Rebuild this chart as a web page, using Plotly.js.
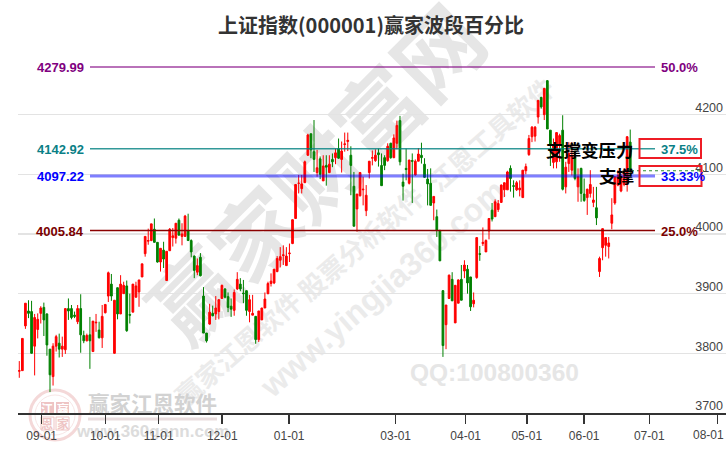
<!DOCTYPE html>
<html>
<head>
<meta charset="utf-8">
<script src="https://cdn.plot.ly/plotly-3.0.1.min.js"></script>
<style>
html,body{margin:0;padding:0;background:#fff;}
#wm,#chart{position:absolute;left:0;top:0;width:726px;height:450px;}
</style>
</head>
<body>
<div id="wm"></div>
<div id="chart"></div>
<script>
const opens = [
3770,3771,3846,3871,3870,3812,3840,3867,3877,3866,
3807,3761,3812,3817,3807,3806,3875,3875,3864,3853,
3875,3830,3821,3831,3803,3851,3839,3826,3868,3896,
3916,3800,3910,3866,3900,3913,3865,3869,3894,3903,
3928,3967,3988,3989,4008,3986,3953,3973,3922,3972,
3994,3993,4023,3996,3996,4006,3989,3963,3936,3961,
3896,3834,3849,3867,3866,3870,3892,3908,3895,3879,
3872,3908,3916,3901,3905,3870,3864,3862,3823,3856,
3876,3900,3917,3918,3937,3956,3964,3947,3967,3984,
4026,4085,4076,4086,4132,4168,4138,4103,4126,4089,
4115,4103,4125,4128,4143,4125,4150,4155,4132,4080,
4042,4064,4074,4039,4103,4127,4123,4136,4115,4128,
4123,4152,4128,4152,4190,4087,4110,4085,4123,4099,
4122,4132,4117,4092,4085,4052,4029,4006,3905,3848,
3892,3924,3851,3884,3924,3938,3941,3928,3883,3927,
3967,3984,3970,4005,4040,4029,4041,4053,4074,4074,
4110,4081,4074,4074,4061,4106,4133,4163,4164,4196,
4229,4200,4257,4174,4120,4121,4151,4174,4079,4118,
4107,4129,4079,4110,4067,4061,4068,4053,4044,3937,
3977,3981,3979,4018,4052,4082,4072,4083,4085,4154];
const closes = [
3771,3825,3884,3867,3800,3860,3857,3876,3856,3814,
3764,3812,3828,3807,3812,3875,3871,3860,3862,3875,
3831,3821,3830,3821,3854,3852,3826,3862,3882,3935,
3896,3889,3866,3916,3914,3838,3864,3916,3913,3923,
3950,3996,3989,4017,3986,3953,3976,3958,3971,4008,
3997,4018,3998,4000,4030,3989,3970,3939,3947,3930,
3834,3821,3869,3863,3876,3890,3914,3894,3877,3874,
3902,3924,3908,3900,3872,3890,3867,3823,3871,3876,
3891,3917,3921,3941,3959,3962,3965,3963,3968,4024,
4083,4085,4084,4121,4166,4141,4125,4111,4100,4114,
4112,4117,4121,4136,4127,4139,4151,4157,4115,4013,
4067,4103,4075,4065,4122,4128,4132,4133,4081,4115,
4147,4128,4161,4182,4121,4080,4108,4124,4122,4122,
4134,4128,4095,4084,4048,4063,4006,3955,3813,3881,
3931,3888,3914,3923,3889,3948,3918,3878,3889,3994,
3966,3986,3989,4026,4025,4054,4051,4082,4086,4104,
4093,4080,4086,4077,4107,4113,4160,4179,4179,4224,
4213,4244,4176,4149,4149,4170,4165,4075,4112,4135,
4132,4093,4096,4068,4056,4075,4083,4057,4027,3959,
4009,3994,3985,4032,4096,4098,4096,4104,4163,4107];
const highs = [
3787,3825,3884,3889,3888,3866,3867,3879,3885,3867,
3807,3817,3831,3833,3828,3875,3892,3881,3870,3881,
3899,3838,3833,3861,3854,3866,3853,3881,3882,3937,
3933,3889,3910,3931,3920,3922,3900,3916,3920,3923,
3950,3996,4009,4017,4026,3986,3976,3987,3971,4010,
4010,4018,4026,4018,4032,4034,3991,3964,3959,3968,
3911,3834,3883,3880,3896,3890,3915,3909,3902,3892,
3907,3936,3926,3923,3905,3898,3898,3862,3871,3876,
3902,3920,3934,3941,3963,3978,3981,3978,3984,4024,
4083,4099,4099,4123,4168,4168,4191,4141,4130,4132,
4132,4132,4135,4143,4160,4155,4170,4170,4147,4104,
4067,4104,4096,4082,4122,4140,4142,4143,4135,4132,
4152,4153,4167,4190,4198,4101,4143,4124,4135,4125,
4144,4153,4127,4109,4110,4063,4041,4007,3906,3881,
3932,3936,3914,3924,3948,3956,3948,3928,3902,3994,
3980,4011,3991,4026,4052,4058,4057,4083,4086,4106,
4115,4090,4089,4090,4107,4118,4166,4181,4181,4224,
4230,4245,4258,4174,4160,4170,4168,4199,4121,4154,
4154,4140,4110,4111,4093,4076,4107,4079,4079,3962,
4009,3994,3995,4060,4096,4107,4101,4110,4164,4175];
const lows = [
3759,3771,3841,3859,3800,3763,3825,3850,3829,3796,
3735,3746,3803,3793,3794,3799,3856,3857,3859,3849,
3801,3817,3820,3774,3803,3836,3825,3809,3867,3886,
3888,3800,3857,3866,3900,3836,3850,3869,3894,3878,
3928,3962,3982,3988,3986,3952,3937,3943,3922,3972,
3979,3984,3998,3981,3996,3989,3961,3926,3931,3929,
3834,3818,3848,3862,3856,3857,3892,3892,3869,3861,
3863,3906,3904,3884,3863,3852,3864,3816,3819,3856,
3876,3899,3912,3916,3936,3944,3948,3947,3953,3983,
4026,4068,4068,4086,4131,4127,4104,4096,4092,4089,
4081,4102,4112,4117,4126,4103,4138,4139,4065,4013,
4004,4063,4048,4030,4093,4115,4121,4113,4081,4107,
4121,4126,4127,4142,4115,4056,4090,4083,4052,4098,
4122,4118,4094,4048,4048,4023,3995,3955,3794,3807,
3891,3888,3851,3884,3889,3926,3900,3871,3877,3925,
3955,3980,3970,3991,4021,4029,4037,4052,4062,4074,
4071,4061,4072,4063,4061,4100,4131,4154,4155,4185,
4210,4191,4176,4114,4110,4110,4121,4073,4068,4104,
4098,4090,4054,4054,4054,4032,4061,4045,4015,3928,
3956,3962,3959,4008,4049,4080,4070,4080,4071,4101];

const tickPositions = [8.3,29,46.4,67.1,88.9,123.6,146.4,166.3,185,206.2,228.4];
const tickLabels = ['09-01','10-01','11-01','12-01','01-01','03-01','04-01','05-01','06-01','07-01','08-01'];
const priceTicks = [3700,3800,3900,4000,4100,4200,4300];
const priceTickLabels = ['3700','3800','3900','4000','4100','4200',''];

const levelValues = [4279.99,4142.92,4097.22,4005.84];
const levelLabels = ['4279.99','4142.92','4097.22','4005.84'];
const levelPercents = ['50.0%','37.5%','33.33%','25.0%'];
const levelTextColors = ['#800080','#0a7f86','#0000ff','#7a0000'];
const levelLineColors = ['#800080','#008080','#0000ff','#8b0000'];
const levelLineWidths = [2,1.5,3,1.5];
const levelLineOpacity = [0.55,0.8,0.5,1];
const lastPrice = 4106;

const indexes = opens.map((_, i) => i + 1);

// pixel helpers for decoration placement
const W = 726, H = 450, L = 18, T = 55, B = 413;
const fx = x => (x - L) / (W - L);
const fy = y => (B - y) / (B - T);

const cjk = '"Noto Sans CJK SC", sans-serif';
const latin = '"Liberation Sans", Arial, sans-serif';

// background watermark layer
const wmColor = '#e6e6e6';
const wmLight = '#ebebeb';
const wmNote = (text, x, y, size, angle, family, color) => ({
  text: '<b>' + text + '</b>', x: x / W, y: 1 - y / H, xref: 'paper', yref: 'paper',
  showarrow: false, xanchor: 'center', yanchor: 'middle', textangle: angle || 0,
  font: {family: family || cjk, size: size, color: color || wmColor}
});
const wmAnnotations = [
  wmNote('赢家财富网', 313, 170, 86, -45),
  wmNote('赢家江恩软件', 237, 347, 26, -41, cjk, wmLight),
  wmNote('股票分析软件', 360, 242, 26, -41, cjk, wmLight),
  wmNote('江恩工具软件', 490, 133, 26, -41, cjk, wmLight),
  wmNote('www.yingjia360.com', 383, 288, 32, -41, latin, wmLight),
  wmNote('QQ:100800360', 495, 372, 24.5, 0, latin),
  wmNote('赢家江恩软件', 152.5, 402, 21.5, 0, cjk, '#d2d2d2'),
  wmNote('www.360gann.com', 152, 431, 17, 0, latin, '#dcdcdc'),
  wmNote('江', 47.5, 408.5, 12, 0, cjk, '#ffffff'),
  wmNote('赢', 62.5, 408.5, 12, 0, cjk, '#ffffff'),
  wmNote('恩', 47.5, 423.5, 12, 0, cjk, '#eec4c4'),
  wmNote('家', 62.5, 423.5, 12, 0, cjk, '#eec4c4')
];
const pxShape = (type, x0, y0, x1, y1, line, fill) => ({
  type: type, xref: 'paper', yref: 'paper',
  x0: x0 / W, x1: x1 / W, y0: 1 - y0 / H, y1: 1 - y1 / H,
  line: line, fillcolor: fill || 'rgba(0,0,0,0)'
});
const wmShapes = [
  pxShape('circle', 30, 390, 80, 440, {color: '#f4d8d8', width: 3}),
  pxShape('circle', 35, 395, 75, 435, {color: '#f8e6e6', width: 1}),
  pxShape('rect', 41, 402, 54, 415, {width: 0}, '#eec4c4'),
  pxShape('rect', 56, 402, 69, 415, {width: 0}, '#eec4c4'),
  pxShape('rect', 41, 417, 54, 430, {color: '#eec4c4', width: 1}),
  pxShape('rect', 56, 417, 69, 430, {color: '#eec4c4', width: 1}),
  pxShape('line', 88, 419, 217, 419, {color: '#eaddde', width: 3})
];
Plotly.newPlot('wm', [], {
  width: W, height: H, margin: {l: 0, r: 0, t: 0, b: 0},
  paper_bgcolor: '#ffffff', plot_bgcolor: '#ffffff',
  xaxis: {visible: false}, yaxis: {visible: false},
  annotations: wmAnnotations, shapes: wmShapes, showlegend: false
}, {staticPlot: true, displayModeBar: false});

// main chart
const candles = {
  type: 'candlestick', x: indexes, open: opens, high: highs, low: lows, close: closes,
  increasing: {line: {color: '#ff0000', width: 1}, fillcolor: '#ff0000'},
  decreasing: {line: {color: '#008000', width: 1}, fillcolor: '#008000'},
  whiskerwidth: 0, hoverinfo: 'skip', showlegend: false
};

const levelShapes = levelValues.map((v, i) => ({
  type: 'line', xref: 'paper', yref: 'y', x0: fx(90), x1: fx(655), y0: v, y1: v,
  opacity: levelLineOpacity[i],
  line: {color: levelLineColors[i], width: levelLineWidths[i]}
}));
const boxShape = (x0, y0, x1, y1) => ({
  type: 'rect', xref: 'paper', yref: 'paper',
  x0: fx(x0), x1: fx(x1), y0: fy(y0), y1: fy(y1),
  line: {color: '#ee1c25', width: 2}, fillcolor: 'rgba(0,0,0,0)'
});
const lastLine = {
  type: 'line', xref: 'paper', yref: 'y', x0: fx(631), x1: fx(704), y0: lastPrice, y1: lastPrice,
  line: {color: '#2e8b2e', width: 1, dash: 'dot'}
};

const levelLeft = levelValues.map((v, i) => ({
  text: '<b>' + levelLabels[i] + '</b>', xref: 'paper', yref: 'y', x: fx(85.5), y: v, yshift: -1,
  xanchor: 'right', yanchor: 'middle', showarrow: false,
  font: {family: latin, size: 13, color: levelTextColors[i]}
}));
const levelRight = levelValues.map((v, i) => ({
  text: '<b>' + levelPercents[i] + '</b>', xref: 'paper', yref: 'y', x: fx(659), y: v, yshift: -1,
  xanchor: 'left', yanchor: 'middle', showarrow: false,
  font: {family: latin, size: 13, color: levelTextColors[i]}
}));
const tagNote = (text, x, y) => ({
  text: '<b>' + text + '</b>', xref: 'paper', yref: 'paper', x: fx(x), y: fy(y),
  xanchor: 'right', yanchor: 'middle', showarrow: false,
  font: {family: cjk, size: 17.5, color: '#000000'}
});
const lastTickNote = {
  text: tickLabels[tickLabels.length - 1], xref: 'paper', yref: 'paper', x: fx(708), y: fy(435),
  xanchor: 'center', yanchor: 'middle', showarrow: false,
  font: {family: latin, size: 12, color: '#444444'}
};

const layout = {
  width: W, height: H,
  margin: {l: L, r: 0, t: T, b: H - B},
  paper_bgcolor: 'rgba(0,0,0,0)', plot_bgcolor: 'rgba(0,0,0,0)',
  title: {text: '<b>上证指数(000001)赢家波段百分比</b>', x: 371 / W, xanchor: 'center', y: 1 - 26 / H, yanchor: 'middle',
          font: {family: cjk, size: 20, color: '#333333'}},
  showlegend: false,
  boxgap: 0.2,
  xaxis: {
    type: 'linear', range: [0.58, 231.2], tickmode: 'array', tickvals: tickPositions,
    ticktext: tickLabels.map((t, i) => i === tickLabels.length - 1 ? '' : t),
    showgrid: false, zeroline: false, rangeslider: {visible: false},
    showline: true, linecolor: '#333333', linewidth: 1.5,
    ticks: 'outside', ticklen: 9, tickwidth: 1.5, tickcolor: '#333333', ticklabelstandoff: 2,
    tickfont: {family: latin, size: 12, color: '#444444'}
  },
  yaxis: {
    type: 'linear', range: [3700, 4300], side: 'right', tickmode: 'array', tickvals: priceTicks, ticktext: priceTickLabels,
    showgrid: true, gridcolor: '#e3e3e3', gridwidth: 1.5, zeroline: false, showline: false, ticks: '',
    ticklabelposition: 'inside', ticklabelshift: -7, ticklabeloverflow: 'allow',
    tickfont: {family: latin, size: 12.5, color: '#444444'}
  },
  shapes: [...levelShapes, lastLine, boxShape(639.5, 139, 701, 158), boxShape(639.5, 166, 701.5, 186)],
  annotations: [...levelLeft, ...levelRight, tagNote('支撑变压力', 635.5, 149), tagNote('支撑', 635.5, 175.5), lastTickNote]
};
Plotly.newPlot('chart', [candles], layout, {staticPlot: true, displayModeBar: false});
</script>
</body>
</html>
